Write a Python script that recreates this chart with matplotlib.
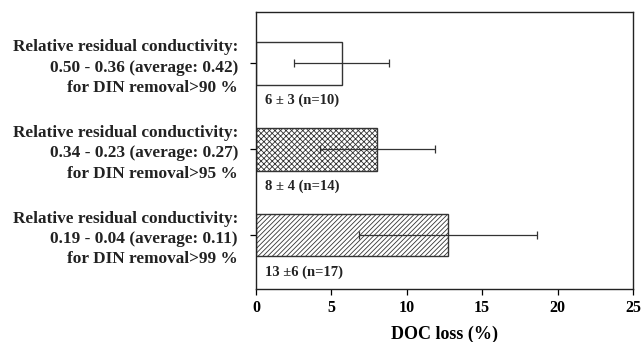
"""DOC loss by residual conductivity class, horizontal bar chart."""

import matplotlib
matplotlib.use("Agg")
import matplotlib.pyplot as plt

plt.rcParams["font.family"] = ["Liberation Serif", "DejaVu Serif"]
plt.rcParams["font.weight"] = "bold"
plt.rcParams["hatch.linewidth"] = 0.6

categories = [
    "Relative residual conductivity:\n0.19 - 0.04 (average: 0.11)\nfor DIN removal>99 %",
    "Relative residual conductivity:\n0.34 - 0.23 (average: 0.27)\nfor DIN removal>95 %",
    "Relative residual conductivity:\n0.50 - 0.36 (average: 0.42)\nfor DIN removal>90 %",
]
doc_loss = [12.75, 8.05, 5.7]
doc_err = [5.9, 3.8, 3.15]
bar_notes = ["13 \u00b16 (n=17)", "8 \u00b1 4 (n=14)", "6 \u00b1 3 (n=10)"]
hatches = ["///////", "xxxxxx", ""]
x_ticks = [0, 5, 10, 15, 20, 25]

fig = plt.figure(figsize=(6.41, 3.42), dpi=100)
ax = fig.add_axes([0.3994, 0.155, 0.5881, 0.81])

ypos = list(range(len(categories)))
for y, val, err, h in zip(ypos, doc_loss, doc_err, hatches):
    ax.barh(y, val, height=0.5, color="white", edgecolor="#333333",
            linewidth=1.0, hatch=h)
    ax.errorbar(val, y, xerr=err, fmt="none", ecolor="#333333",
                elinewidth=0.9, capsize=3, capthick=0.9)

for y, note in zip(ypos, bar_notes):
    ax.text(0.6, y - 0.43, note, ha="left", va="center", fontsize=10.5,
            fontweight="bold", color="#222222")

ax.set_xlim(0, 25)
ax.set_ylim(-0.63, 2.6)
ax.set_xticks(x_ticks)
ax.set_xticklabels([str(t) for t in x_ticks], fontsize=11.5, fontweight="bold")
ax.set_yticks(ypos)
ax.set_yticklabels(categories, fontsize=12.4, fontweight="bold",
                   linespacing=1.36, color="#222222")
ax.tick_params(axis="both", direction="out", length=4, width=0.9)
ax.tick_params(axis="y", pad=9)
ax.tick_params(axis="x", pad=4)
for s in ax.spines.values():
    s.set_linewidth(1.0)
    s.set_color("#222222")
ax.set_xlabel("DOC loss (%)", fontsize=13, fontweight="bold", labelpad=7)

fig.savefig("out.png", dpi=100)
